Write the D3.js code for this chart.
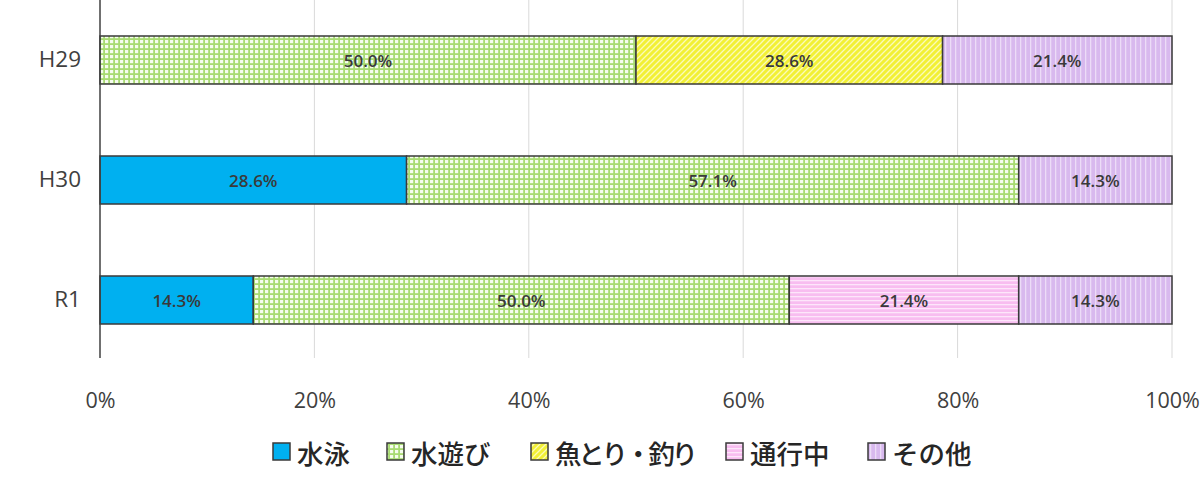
<!DOCTYPE html>
<html><head><meta charset="utf-8">
<script src="https://cdn.jsdelivr.net/npm/d3@7"></script>
<style>body{margin:0;background:#fff;}svg{display:block;}</style>
</head><body>
<svg id="c" width="1200" height="493"></svg>
<script>
const categories = ["H29", "H30", "R1"];
const seriesNames = ["水泳", "水遊び", "魚とり・釣り", "通行中", "その他"];
const swim   = [0, 28.6, 14.3];
const play   = [50.0, 57.1, 50.0];
const fish   = [28.6, 0, 0];
const walk   = [0, 0, 21.4];
const other  = [21.4, 14.3, 14.3];
const tickLabels = ["0%", "20%", "40%", "60%", "80%", "100%"];
const tickValues = [0, 20, 40, 60, 80, 100];

const values = [swim, play, fish, walk, other];
const svg = d3.select("#c");
const defs = svg.append("defs");

function pat(id, w, h, bg, draw) {
  const p = defs.append("pattern").attr("id", id).attr("patternUnits", "userSpaceOnUse")
    .attr("width", w).attr("height", h);
  p.append("rect").attr("width", w).attr("height", h).attr("fill", bg);
  draw(p);
}
pat("pGreen", 5, 5, "#a8db72", p => {
  p.append("rect").attr("x", 0).attr("y", 0).attr("width", 3.2).attr("height", 3.2).attr("fill", "#f6fcee");
});
pat("pYellow", 6, 6, "#f2f035", p => {
  p.append("path").attr("d", "M0,6 L6,0 M-1.5,1.5 L1.5,-1.5 M4.5,7.5 L7.5,4.5")
   .attr("stroke", "#fbfbb8").attr("stroke-width", 1.3);
});
pat("pPink", 6, 4, "#f8bdf0", p => {
  p.append("rect").attr("x", 0).attr("y", 0).attr("width", 6).attr("height", 1.3).attr("fill", "#fde6fa");
});
pat("pPurple", 5, 6, "#d8b9ee", p => {
  p.append("rect").attr("x", 0).attr("y", 0).attr("width", 1.3).attr("height", 6).attr("fill", "#ecdcf7");
});
const fills = ["#00b0f0", "url(#pGreen)", "url(#pYellow)", "url(#pPink)", "url(#pPurple)"];

const x = d3.scaleLinear().domain([0, 100]).range([100, 1172]);
const y = d3.scaleBand().domain(categories).range([0, 360]).paddingInner(0.6).paddingOuter(0.3);

// gridlines
svg.append("g").selectAll("line").data(tickValues.slice(1)).join("line")
  .attr("x1", d => x(d)).attr("x2", d => x(d)).attr("y1", 0).attr("y2", 358)
  .attr("stroke", "#d9d9d9").attr("stroke-width", 1);

// stacked bars
const stackData = categories.map((c, i) => {
  const o = { cat: c };
  seriesNames.forEach((s, j) => o[s] = values[j][i]);
  return o;
});
const stacked = d3.stack().keys(seriesNames)(stackData);

stacked.forEach((layer, j) => {
  const g = svg.append("g");
  layer.forEach(d => {
    const v = d[1] - d[0];
    if (v <= 0) return;
    g.append("rect")
      .attr("x", x(d[0])).attr("y", y(d.data.cat))
      .attr("width", x(d[1]) - x(d[0])).attr("height", y.bandwidth())
      .attr("fill", fills[j]).attr("stroke", "#3a3a3a").attr("stroke-width", 1.5);
    g.append("text")
      .attr("x", (x(d[0]) + x(d[1])) / 2).attr("y", y(d.data.cat) + y.bandwidth() / 2)
      .attr("text-anchor", "middle").attr("dominant-baseline", "central")
      .attr("font-family", "'Open Sans', 'Noto Sans', sans-serif").attr("font-size", 17)
      .attr("font-weight", 600)
      .attr("fill", "#3a3a3a")
      .text(v.toFixed(1) + "%");
  });
});

// axis line (vertical)
svg.append("line").attr("x1", x(0)).attr("x2", x(0)).attr("y1", 0).attr("y2", 358)
  .attr("stroke", "#404040").attr("stroke-width", 1.5);

// x tick labels
const xAxis = d3.axisBottom(x).tickValues(tickValues).tickFormat((d, i) => tickLabels[i]).tickSize(0).tickPadding(0);
const gx = svg.append("g").attr("transform", "translate(0,400)").call(xAxis);
gx.select(".domain").remove();
gx.selectAll("text").attr("font-family", "'Open Sans', 'Noto Sans', sans-serif").attr("font-size", 21.5)
  .attr("fill", "#404040").attr("dy", "0.35em").attr("y", 0);

// y labels
const yAxis = d3.axisLeft(y).tickSize(0).tickPadding(0);
const gy = svg.append("g").attr("transform", "translate(81,0)").call(yAxis);
gy.select(".domain").remove();
gy.selectAll("text").attr("font-family", "'Open Sans', 'Noto Sans', sans-serif").attr("font-size", 22.5)
  .attr("fill", "#404040");

// legend
const legendX = [273, 387, 531, 726, 868];
const lg = svg.append("g");
seriesNames.forEach((s, j) => {
  lg.append("rect").attr("x", legendX[j]).attr("y", 443).attr("width", 17).attr("height", 17)
    .attr("fill", fills[j]).attr("stroke", "#3a3a3a").attr("stroke-width", 1.5);
  const t = lg.append("text").attr("x", legendX[j] + 24).attr("y", 452).attr("dominant-baseline", "central")
    .attr("font-family", "'Noto Sans CJK JP', sans-serif").attr("font-size", 26.5).attr("font-weight", 500)
    .attr("fill", "#262626")
    .text(s);
  if (s.includes("・")) {
    const w = t.node().getComputedTextLength();
    t.attr("textLength", w - 16).attr("lengthAdjust", "spacing");
  }
});
</script>
</body></html>
